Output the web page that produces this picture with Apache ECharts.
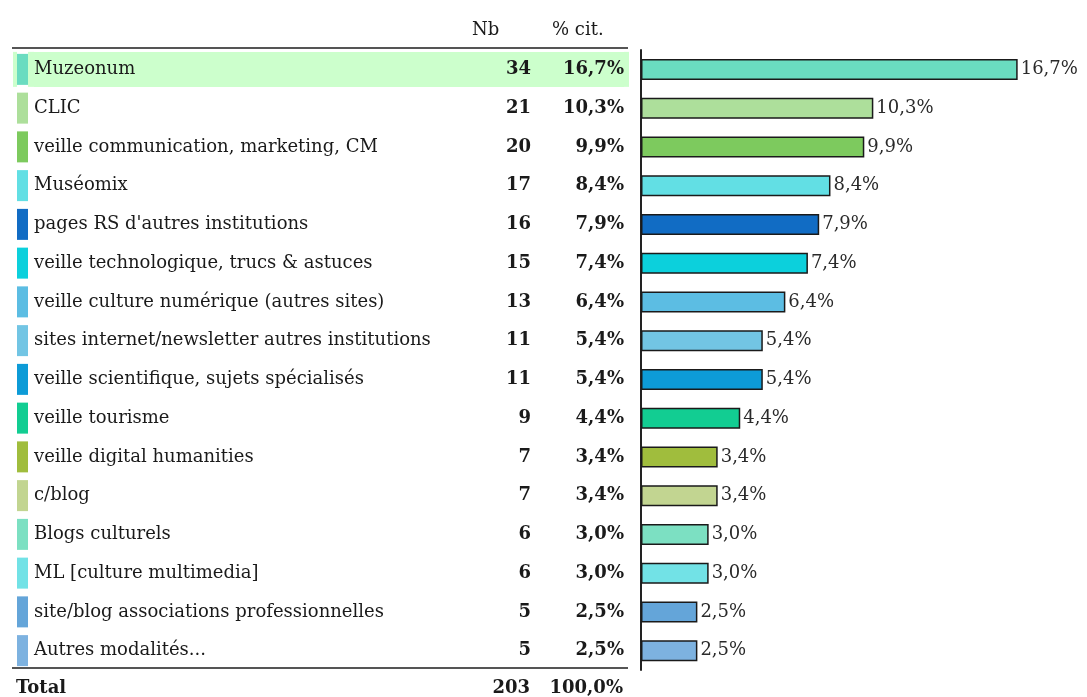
<!doctype html>
<html>
<head>
    <meta charset="utf-8">
    <title>Veille</title>
    <style>
        html, body { margin: 0; padding: 0; background: #ffffff; }
        #chart { width: 1087px; height: 697px; }
    </style>
</head>
<body>
    <div id="chart"></div>
</body>
</html>
<script type="text/javascript" src="https://cdn.jsdelivr.net/npm/echarts@6/dist/echarts.min.js"></script>
<script type="text/javascript">
    // données
    var categories = ['Muzeonum', 'CLIC', 'veille communication, marketing, CM', 'Muséomix',
        'pages RS d\'autres institutions', 'veille technologique, trucs & astuces',
        'veille culture numérique (autres sites)', 'sites internet/newsletter autres institutions',
        'veille scientifique, sujets spécialisés', 'veille tourisme', 'veille digital humanities',
        'c/blog', 'Blogs culturels', 'ML [culture multimedia]',
        'site/blog associations professionnelles', 'Autres modalités...'];
    var counts = [34, 21, 20, 17, 16, 15, 13, 11, 11, 9, 7, 7, 6, 6, 5, 5];
    var percents = [16.7, 10.3, 9.9, 8.4, 7.9, 7.4, 6.4, 5.4, 5.4, 4.4, 3.4, 3.4, 3.0, 3.0, 2.5, 2.5];
    var colors = ['#6adcc0', '#addf9b', '#7dca5e', '#62dfe4', '#116cc4', '#0cd0dc', '#5cbde3', '#72c5e4',
        '#0d9bd7', '#12cd92', '#a0bd3d', '#c2d591', '#7ce0c2', '#72e2e6', '#64a5d9', '#7db2e0'];
    var headers = ['Nb', '% cit.'];
    var totalLabel = 'Total';
    var totalPercent = '100,0%';

    function fmt(v) {
        return v.toFixed(1).replace('.', ',') + '%';
    }

    var FONT = '"DejaVu Serif", "Liberation Serif", serif';
    var FS = 18;
    var TXT = '#1a1a1a';
    var HL = '#ccffcc';

    // styles du tableau (colonnes : repère, libellé, Nb, % cit.)
    var rich = {};
    colors.forEach(function(c, i) {
        rich['m' + i] = { backgroundColor: c, width: 11, height: 31 };
    });
    function cell(bg) {
        return {
            sp: { width: 4, height: 35, backgroundColor: bg },
            gap: { width: 6, height: 35, backgroundColor: bg },
            name: { width: 437, height: 35, align: 'left', fontFamily: FONT, fontSize: FS, color: TXT, backgroundColor: bg },
            nb: { width: 60, height: 35, align: 'right', fontFamily: FONT, fontSize: FS, fontWeight: 'bold', color: TXT, backgroundColor: bg },
            pct: { width: 93, height: 35, align: 'right', fontFamily: FONT, fontSize: FS, fontWeight: 'bold', color: TXT, backgroundColor: bg },
            end: { width: 5, height: 35, align: 'right', backgroundColor: bg }
        };
    }
    var plain = cell('transparent');
    var lit = cell(HL);
    ['sp', 'gap', 'name', 'nb', 'pct', 'end'].forEach(function(k) {
        rich[k] = plain[k];
        rich[k + 'H'] = lit[k];
    });

    var total = counts.reduce(function(a, b) { return a + b; }, 0);

    var myChart = echarts.init(document.getElementById('chart'));

    var option = {
        animation: false,
        textStyle: { fontFamily: FONT },
        grid: {
            left: 641,
            right: 40,
            top: 50,
            height: 620,
            containLabel: false,
            outerBoundsMode: 'none'
        },
        xAxis: {
            type: 'value',
            min: 0,
            max: 18,
            show: false
        },
        yAxis: {
            type: 'category',
            inverse: true,
            data: categories,
            axisLine: { show: true, lineStyle: { color: '#222', width: 2 } },
            axisTick: { show: false },
            axisLabel: {
                interval: 0,
                margin: 628,
                align: 'left',
                rich: rich,
                formatter: function(value, i) {
                    var h = i === 0 ? 'H' : '';
                    return '{sp' + h + '|}{m' + i + '|}{gap' + h + '|}{name' + h + '|' + value + '}' +
                        '{nb' + h + '|' + counts[i] + '}{pct' + h + '|' + fmt(percents[i]) + '}{end' + h + '|}';
                }
            }
        },
        series: [{
            type: 'bar',
            barWidth: 21,
            data: percents.map(function(v, i) {
                return { value: v, itemStyle: { color: colors[i] } };
            }),
            itemStyle: { borderColor: '#1a1a1a', borderWidth: 1.5 },
            label: {
                show: true,
                position: 'right',
                distance: 3,
                fontFamily: FONT,
                fontSize: FS,
                color: '#2a2a2a',
                formatter: function(p) { return fmt(p.value); }
            }
        }],
        graphic: [
            { type: 'text', left: 472, top: 21, style: { text: headers[0], font: FS + 'px ' + FONT, fill: TXT } },
            { type: 'text', left: 552, top: 21, style: { text: headers[1], font: FS + 'px ' + FONT, fill: TXT } },
            { type: 'line', shape: { x1: 12, y1: 48, x2: 628, y2: 48 }, style: { stroke: '#555', lineWidth: 2 } },
            { type: 'line', shape: { x1: 12, y1: 668, x2: 628, y2: 668 }, style: { stroke: '#555', lineWidth: 2 } },
            { type: 'text', x: 16, y: 688, style: { text: totalLabel, font: 'bold ' + FS + 'px ' + FONT, fill: TXT, textVerticalAlign: 'middle' } },
            { type: 'text', x: 530, y: 688, style: { text: String(total), font: 'bold ' + FS + 'px ' + FONT, fill: TXT, textAlign: 'right', textVerticalAlign: 'middle' } },
            { type: 'text', x: 623, y: 688, style: { text: totalPercent, font: 'bold ' + FS + 'px ' + FONT, fill: TXT, textAlign: 'right', textVerticalAlign: 'middle' } }
        ]
    };

    myChart.setOption(option);
</script>
